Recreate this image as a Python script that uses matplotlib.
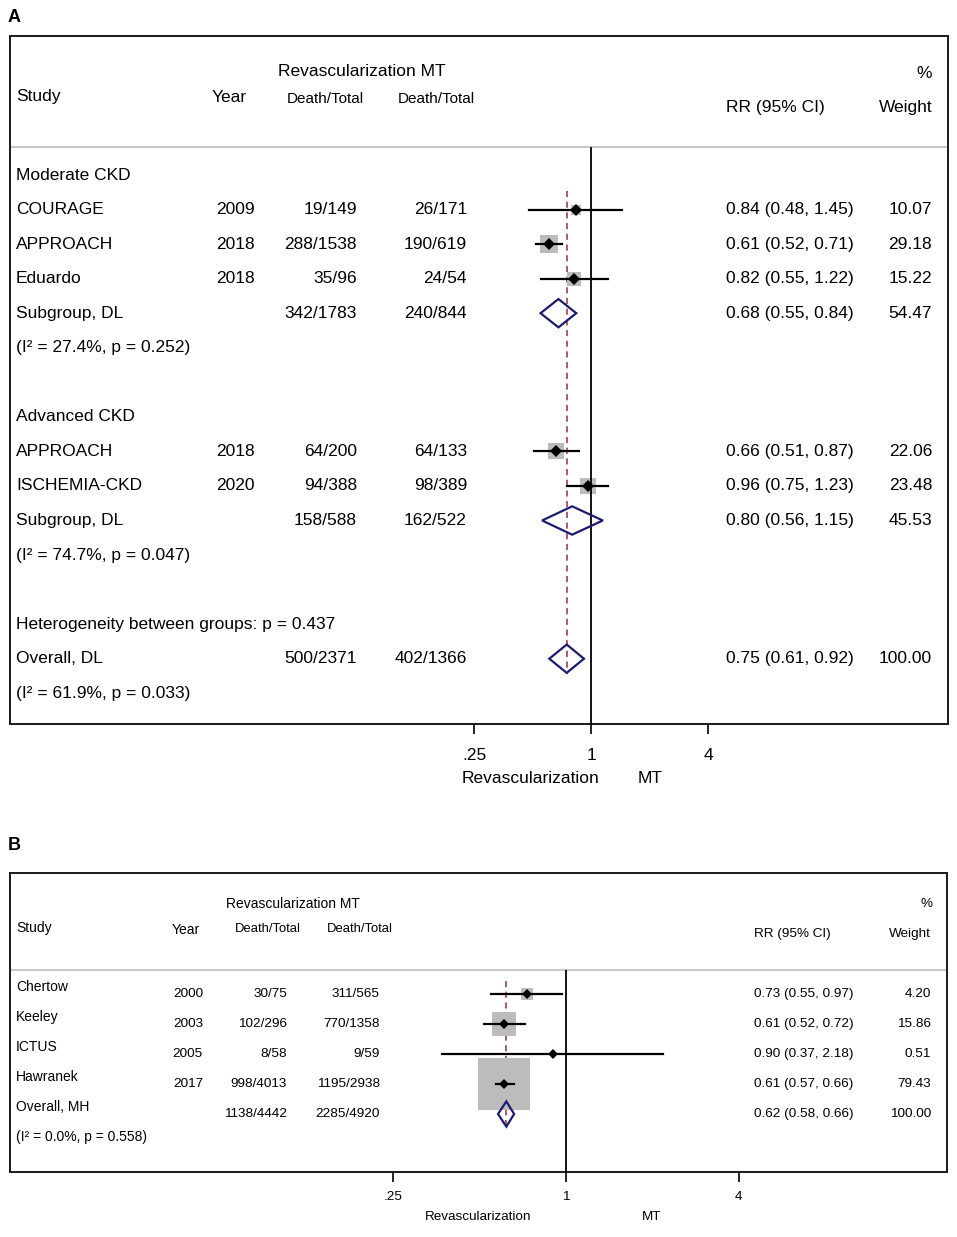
import matplotlib.pyplot as plt
import numpy as np
from matplotlib.ticker import NullLocator

plt.rcParams['font.family'] = ['Liberation Sans', 'DejaVu Sans']

# ---- panel A: CKD subgroups ----
a_study = ["COURAGE", "APPROACH", "Eduardo", "APPROACH", "ISCHEMIA-CKD"]
a_year = [2009, 2018, 2018, 2018, 2020]
a_revasc = ["19/149", "288/1538", "35/96", "64/200", "94/388"]
a_mt = ["26/171", "190/619", "24/54", "64/133", "98/389"]
a_rr = [0.84, 0.61, 0.82, 0.66, 0.96]
a_lo = [0.48, 0.52, 0.55, 0.51, 0.75]
a_hi = [1.45, 0.71, 1.22, 0.87, 1.23]
a_weight = [10.07, 29.18, 15.22, 22.06, 23.48]
a_rows = [1, 2, 3, 8, 9]

a_pool_label = ["Subgroup, DL", "Subgroup, DL", "Overall, DL"]
a_pool_revasc = ["342/1783", "158/588", "500/2371"]
a_pool_mt = ["240/844", "162/522", "402/1366"]
a_pool_rr = [0.68, 0.80, 0.75]
a_pool_lo = [0.55, 0.56, 0.61]
a_pool_hi = [0.84, 1.15, 0.92]
a_pool_weight = [54.47, 45.53, 100.00]
a_pool_rows = [4, 10, 14]

a_notes = ["Moderate CKD", "(I² = 27.4%, p = 0.252)", "Advanced CKD",
           "(I² = 74.7%, p = 0.047)", "Heterogeneity between groups: p = 0.437",
           "(I² = 61.9%, p = 0.033)"]
a_note_rows = [0, 5, 7, 11, 13, 15]

# ---- panel B ----
b_study = ["Chertow", "Keeley", "ICTUS", "Hawranek"]
b_year = [2000, 2003, 2005, 2017]
b_revasc = ["30/75", "102/296", "8/58", "998/4013"]
b_mt = ["311/565", "770/1358", "9/59", "1195/2938"]
b_rr = [0.73, 0.61, 0.90, 0.61]
b_lo = [0.55, 0.52, 0.37, 0.57]
b_hi = [0.97, 0.72, 2.18, 0.66]
b_weight = [4.20, 15.86, 0.51, 79.43]
b_rows = [0, 1, 2, 3]

b_pool_label = ["Overall, MH"]
b_pool_revasc = ["1138/4442"]
b_pool_mt = ["2285/4920"]
b_pool_rr = [0.62]
b_pool_lo = [0.58]
b_pool_hi = [0.66]
b_pool_weight = [100.00]
b_pool_rows = [4]
b_note = "(I² = 0.0%, p = 0.558)"

ticks = [0.25, 1, 4]
tick_labels = [".25", "1", "4"]

NAVY = "#1c1c6e"
MAROON = "#9a2c44"
BOXGREY = "#bcbcbc"
W, H = 957.0, 1237.0


def add_box(fig, left, top, right, bottom):
    return fig.add_axes([left / W, 1 - bottom / H, (right - left) / W, (bottom - top) / H])


def setup_axis(ax, fs, pad):
    ax.set_xscale('log', base=2)
    ax.set_xticks(ticks)
    ax.set_xticklabels(tick_labels)
    ax.xaxis.set_minor_locator(NullLocator())
    ax.set_yticks([])
    ax.tick_params(axis='x', direction='out', length=7, width=1.2, pad=pad, labelsize=fs)
    for s in ax.spines.values():
        s.set_linewidth(1.4)
        s.set_color('#1a1a1a')


def draw_studies(ax, rows, rr, lo, hi, weight, k_box, ms):
    for r, e, l, h, w in zip(rows, rr, lo, hi, weight):
        ax.plot(e, r, marker='s', ms=k_box * np.sqrt(w) * 0.72, color=BOXGREY, mew=0, zorder=2)
        ax.plot([l, h], [r, r], color='black', lw=1.6, zorder=3)
        ax.plot(e, r, marker='D', ms=ms, color='black', mew=0, zorder=4)


def draw_pooled(ax, rows, rr, lo, hi, half):
    for r, e, l, h in zip(rows, rr, lo, hi):
        ax.fill([l, e, h, e, l], [r, r - half, r, r + half, r], facecolor='none',
                edgecolor=NAVY, lw=1.6, zorder=4)


def main():
    fig = plt.figure(figsize=(9.57, 12.37), dpi=100)

    # ================= panel A =================
    ax = add_box(fig, 10, 36, 948, 724)
    setup_axis(ax, 12.5, 10)
    ax.set_xlim(2 ** ((10 - 591) / 58.5), 2 ** ((948 - 591) / 58.5))
    ax.set_ylim((724 - 175) / 34.55, (36 - 175) / 34.55)
    tr = ax.get_yaxis_transform()
    fs, fsh = 12.5, 11

    hdr = -0.81
    ax.axhline(hdr, color='#c8c8c8', lw=1.5, zorder=1)
    ax.vlines(1, hdr, ax.get_ylim()[0], color='black', lw=1.3, zorder=3)
    ax.plot([a_pool_rr[-1]] * 2, [0.46, 14.44], color=MAROON, lw=1.1, dashes=(4, 3), zorder=2)

    ax.text(0.0064, -2.26, "Study", transform=tr, fontsize=fs, va='center')
    ax.text(0.2335, -2.23, "Year", transform=tr, fontsize=fs, va='center', ha='center')
    ax.text(0.2857, -3.01, "Revascularization MT", transform=tr, fontsize=fs, va='center')
    ax.text(0.3358, -2.2, "Death/Total", transform=tr, fontsize=fsh, va='center', ha='center')
    ax.text(0.4542, -2.2, "Death/Total", transform=tr, fontsize=fsh, va='center', ha='center')
    ax.text(0.983, -2.95, "%", transform=tr, fontsize=fs, va='center', ha='right')
    ax.text(0.7633, -1.94, "RR (95% CI)", transform=tr, fontsize=fs, va='center')
    ax.text(0.983, -1.94, "Weight", transform=tr, fontsize=fs, va='center', ha='right')

    for r, t in zip(a_note_rows, a_notes):
        ax.text(0.0064, r, t, transform=tr, fontsize=fs, va='center')

    for r, s, y, rv, mt, e, l, h, w in zip(a_rows, a_study, a_year, a_revasc, a_mt,
                                           a_rr, a_lo, a_hi, a_weight):
        ax.text(0.0064, r, s, transform=tr, fontsize=fs, va='center')
        ax.text(0.2612, r, str(y), transform=tr, fontsize=fs, va='center', ha='right')
        ax.text(0.37, r, rv, transform=tr, fontsize=fs, va='center', ha='right')
        ax.text(0.4872, r, mt, transform=tr, fontsize=fs, va='center', ha='right')
        ax.text(0.7633, r, "%.2f (%.2f, %.2f)" % (e, l, h), transform=tr, fontsize=fs, va='center')
        ax.text(0.983, r, "%.2f" % w, transform=tr, fontsize=fs, va='center', ha='right')

    for r, s, rv, mt, e, l, h, w in zip(a_pool_rows, a_pool_label, a_pool_revasc, a_pool_mt,
                                        a_pool_rr, a_pool_lo, a_pool_hi, a_pool_weight):
        ax.text(0.0064, r, s, transform=tr, fontsize=fs, va='center')
        ax.text(0.37, r, rv, transform=tr, fontsize=fs, va='center', ha='right')
        ax.text(0.4872, r, mt, transform=tr, fontsize=fs, va='center', ha='right')
        ax.text(0.7633, r, "%.2f (%.2f, %.2f)" % (e, l, h), transform=tr, fontsize=fs, va='center')
        ax.text(0.983, r, "%.2f" % w, transform=tr, fontsize=fs, va='center', ha='right')

    draw_studies(ax, a_rows, a_rr, a_lo, a_hi, a_weight, 3.4, 6.2)
    draw_pooled(ax, a_pool_rows, a_pool_rr, a_pool_lo, a_pool_hi, 0.41)

    ax.text(0.5544, 17.48, "Revascularization", transform=tr, fontsize=fs, va='center', ha='center')
    ax.text(0.6823, 17.48, "MT", transform=tr, fontsize=fs, va='center', ha='center')
    fig.text(14 / W, 1 - 17 / H, "A", fontsize=13, fontweight='bold', ha='center', va='center')

    # ================= panel B =================
    ax = add_box(fig, 10, 873, 947, 1172)
    setup_axis(ax, 9.7, 7)
    ax.set_xlim(2 ** ((10 - 566) / 86.5), 2 ** ((947 - 566) / 86.5))
    ax.set_ylim((1172 - 994) / 30.0, (873 - 994) / 30.0)
    tr = ax.get_yaxis_transform()
    fs, fsh = 9.7, 9.4
    off = -0.233  # study names sit a little above their numbers

    hdr = -0.8
    ax.axhline(hdr, color='#c8c8c8', lw=1.5, zorder=1)
    ax.vlines(1, hdr, ax.get_ylim()[0], color='black', lw=1.3, zorder=3)
    ax.plot([b_pool_rr[0]] * 2, [-0.43, 4.47], color=MAROON, lw=1.1, dashes=(4, 3), zorder=2)

    ax.text(0.0064, -2.2, "Study", transform=tr, fontsize=10, va='center')
    ax.text(0.1878, -2.13, "Year", transform=tr, fontsize=10, va='center', ha='center')
    ax.text(0.2305, -3.0, "Revascularization MT", transform=tr, fontsize=10, va='center')
    ax.text(0.2753, -2.17, "Death/Total", transform=tr, fontsize=fsh, va='center', ha='center')
    ax.text(0.3735, -2.17, "Death/Total", transform=tr, fontsize=fsh, va='center', ha='center')
    ax.text(0.984, -3.0, "%", transform=tr, fontsize=fs, va='center', ha='right')
    ax.text(0.794, -2.0, "RR (95% CI)", transform=tr, fontsize=fs, va='center')
    ax.text(0.983, -2.0, "Weight", transform=tr, fontsize=fs, va='center', ha='right')

    for r, s, y, rv, mt, e, l, h, w in zip(b_rows, b_study, b_year, b_revasc, b_mt,
                                           b_rr, b_lo, b_hi, b_weight):
        ax.text(0.0064, r + off, s, transform=tr, fontsize=10, va='center')
        ax.text(0.206, r, str(y), transform=tr, fontsize=fs, va='center', ha='right')
        ax.text(0.2956, r, rv, transform=tr, fontsize=fs, va='center', ha='right')
        ax.text(0.3949, r, mt, transform=tr, fontsize=fs, va='center', ha='right')
        ax.text(0.794, r, "%.2f (%.2f, %.2f)" % (e, l, h), transform=tr, fontsize=fs, va='center')
        ax.text(0.983, r, "%.2f" % w, transform=tr, fontsize=fs, va='center', ha='right')

    for r, s, rv, mt, e, l, h, w in zip(b_pool_rows, b_pool_label, b_pool_revasc, b_pool_mt,
                                        b_pool_rr, b_pool_lo, b_pool_hi, b_pool_weight):
        ax.text(0.0064, r + off, s, transform=tr, fontsize=10, va='center')
        ax.text(0.2956, r, rv, transform=tr, fontsize=fs, va='center', ha='right')
        ax.text(0.3949, r, mt, transform=tr, fontsize=fs, va='center', ha='right')
        ax.text(0.794, r, "%.2f (%.2f, %.2f)" % (e, l, h), transform=tr, fontsize=fs, va='center')
        ax.text(0.983, r, "%.2f" % w, transform=tr, fontsize=fs, va='center', ha='right')
    ax.text(0.0064, b_pool_rows[-1] + 1 + off, b_note, transform=tr, fontsize=10, va='center')

    draw_studies(ax, b_rows, b_rr, b_lo, b_hi, b_weight, 5.8, 5.6)
    draw_pooled(ax, b_pool_rows, b_pool_rr, b_pool_lo, b_pool_hi, 0.42)

    ax.text(0.4995, 7.43, "Revascularization", transform=tr, fontsize=fs, va='center', ha='center')
    ax.text(0.685, 7.43, "MT", transform=tr, fontsize=fs, va='center', ha='center')
    fig.text(14 / W, 1 - 845 / H, "B", fontsize=13, fontweight='bold', ha='center', va='center')

    fig.savefig("out.png", dpi=100)
    return 0


if __name__ == '__main__':
    main()
